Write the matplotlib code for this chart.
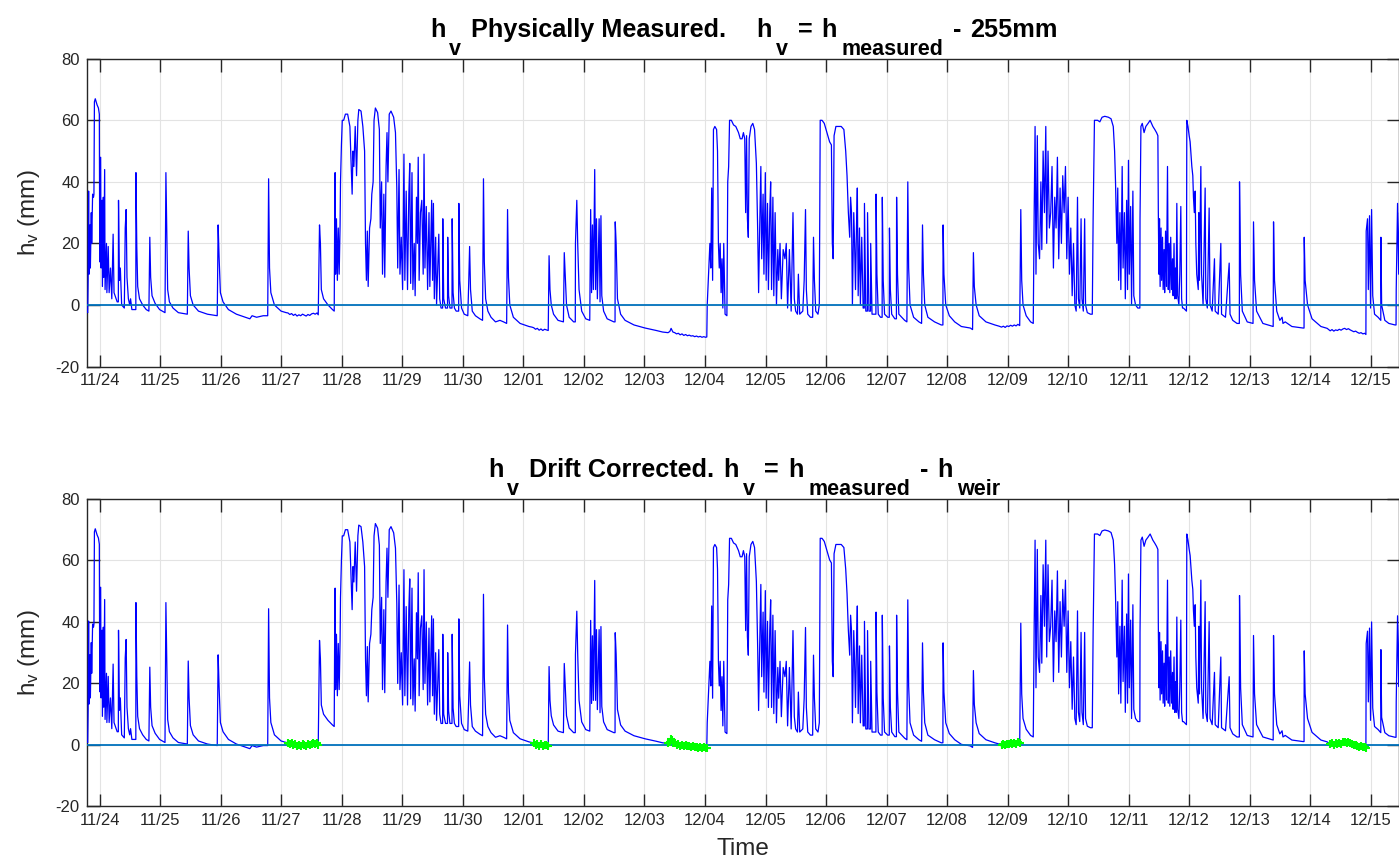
import numpy as np
import matplotlib.pyplot as plt
from matplotlib.transforms import IdentityTransform

plt.rcParams["font.family"] = ["Liberation Sans", "DejaVu Sans"]
plt.rcParams["mathtext.fontset"] = "custom"
plt.rcParams["mathtext.rm"] = "Liberation Sans"
plt.rcParams["mathtext.bf"] = "Liberation Sans:bold"
plt.rcParams["axes.unicode_minus"] = False

# days since 11/24 00:00, h_v measured (mm)
hv_nov23_26 = [
    (-0.214, -2), (-0.199, -2.5), (-0.192, 8), (-0.184, 37), (-0.177, 10), (-0.162, 26),
    (-0.155, 12), (-0.140, 30), (-0.133, 20), (-0.118, 36), (-0.103, 35), (-0.096, 36),
    (-0.088, 66), (-0.074, 67), (-0.044, 65), (-0.022, 64), (-0.007, 62), (0.000, 14),
    (0.015, 48), (0.022, 12), (0.037, 34), (0.044, 6), (0.059, 35), (0.066, 9), (0.081, 44),
    (0.088, 5), (0.111, 20), (0.118, 4), (0.140, 19), (0.155, 4), (0.177, 12), (0.199, 2),
    (0.221, 23), (0.236, 4), (0.288, 1), (0.307, 1), (0.310, 34), (0.325, 8), (0.340, 12),
    (0.362, 0), (0.406, -1), (0.421, 25), (0.436, 31), (0.450, 9), (0.473, 2), (0.495, 0),
    (0.509, 2), (0.531, -1.5), (0.576, -1.5), (0.596, -1.5), (0.598, 43), (0.612, 19),
    (0.627, 6), (0.657, 2), (0.709, 0), (0.768, -1.5), (0.812, -2), (0.827, 22), (0.841, 9),
    (0.864, 3), (0.915, 0.5), (0.989, -1.5), (1.078, -2.5), (1.093, 43), (1.107, 24),
    (1.122, 5), (1.151, 1), (1.210, -1), (1.299, -2.5), (1.447, -3), (1.462, 24), (1.476, 12),
    (1.498, 3), (1.543, 0), (1.631, -2), (1.779, -3), (1.941, -3.5), (1.956, 26), (1.971, 16),
    (1.993, 4), (2.037, 1), (2.126, -1.5), (2.258, -3), (2.406, -4), (2.480, -4.5),
    (2.517, -3.5), (2.591, -4), (2.701, -3.5), (2.775, -3.5), (2.790, 41), (2.805, 12),
    (2.827, 4), (2.886, 0), (2.996, -2), (3.080, -2.5),
    (3.11, -2.6), (3.14, -3.1), (3.17, -2.8), (3.20, -3.4), (3.23, -3.0), (3.26, -3.6),
    (3.29, -3.2), (3.32, -3.5), (3.35, -3.0), (3.38, -3.3), (3.41, -3.6), (3.44, -3.1),
    (3.47, -3.4), (3.50, -2.9), (3.53, -2.7), (3.56, -3.0), (3.59, -2.6), (3.61, -3.2),
]

hv_nov27_dec01 = [
    (3.631, 26), (3.646, 20), (3.661, 5), (3.698, 2), (3.771, 0), (3.845, -1.5), (3.874, -2),
    (3.882, 30), (3.889, 43), (3.897, 10), (3.911, 28), (3.926, 8), (3.941, 25), (3.956, 10),
    (3.971, 26), (3.978, 40), (3.993, 52), (4.007, 60), (4.030, 60), (4.059, 62), (4.096, 62),
    (4.133, 58), (4.162, 40), (4.170, 36), (4.184, 50), (4.199, 45), (4.221, 58), (4.243, 42),
    (4.265, 60), (4.280, 63.5), (4.317, 63), (4.347, 58), (4.376, 50), (4.391, 20), (4.406, 8),
    (4.421, 24), (4.435, 6), (4.458, 25), (4.480, 28), (4.495, 36), (4.517, 40), (4.532, 60),
    (4.554, 64), (4.591, 62.5), (4.620, 57), (4.635, 25), (4.657, 40), (4.672, 10),
    (4.694, 36), (4.709, 9), (4.731, 45), (4.746, 56), (4.761, 40), (4.783, 62), (4.812, 63),
    (4.856, 61), (4.886, 56), (4.908, 38), (4.923, 12), (4.945, 44), (4.960, 10), (4.982, 22),
    (5.004, 5), (5.026, 49), (5.041, 8), (5.063, 37), (5.085, 5), (5.107, 36), (5.122, 46),
    (5.137, 7), (5.159, 43), (5.174, 5), (5.196, 20), (5.211, 3), (5.233, 35), (5.248, 20),
    (5.262, 48), (5.277, 8), (5.299, 30), (5.321, 34), (5.344, 10), (5.358, 49), (5.373, 12),
    (5.395, 32), (5.417, 5), (5.440, 30), (5.454, 6), (5.484, 34), (5.499, 8), (5.513, 33),
    (5.528, 2), (5.550, 22), (5.565, 0), (5.602, 23), (5.617, 2), (5.639, -1), (5.665, -1),
    (5.668, 28), (5.683, 2), (5.713, -1), (5.746, -1), (5.749, 22), (5.764, 3), (5.786, -1),
    (5.820, -1), (5.823, 28), (5.838, 4), (5.860, -1), (5.889, -2), (5.930, -2), (5.933, 33),
    (5.948, 8), (5.978, -1), (6.022, -3), (6.081, -3.5), (6.096, 7), (6.111, 19), (6.126, 5),
    (6.155, -2), (6.207, -3.5), (6.280, -4.5), (6.325, -5), (6.340, 41), (6.354, 14),
    (6.376, 2), (6.413, -2), (6.465, -4), (6.539, -5.5), (6.612, -5), (6.672, -5.5),
    (6.723, -6), (6.738, 31), (6.753, 9), (6.775, 0), (6.834, -4), (6.945, -6), (7.092, -7),
    (7.14, -7.2),
    (7.17, -7.4), (7.20, -7.9), (7.23, -7.6), (7.26, -8.2), (7.29, -7.8), (7.32, -8.3),
    (7.35, -7.9), (7.38, -8.1), (7.41, -8.3),
]

hv_dec01_04 = [
    (7.424, 16), (7.439, 5), (7.460, 0), (7.498, -3), (7.572, -5), (7.661, -5.5), (7.675, 17),
    (7.690, 10), (7.712, 0), (7.756, -4), (7.830, -5.5), (7.857, -5.5), (7.860, 20),
    (7.882, 34), (7.897, 20), (7.919, 5), (7.963, -2), (8.030, -4.5), (8.096, -5), (8.111, 31),
    (8.126, 4), (8.141, 26), (8.156, 5), (8.178, 44), (8.192, 5), (8.207, 28), (8.222, 2),
    (8.251, 28), (8.266, 1), (8.281, 29), (8.295, 3), (8.325, -2), (8.384, -4.5),
    (8.495, -5.5), (8.514, -5.5), (8.517, 27), (8.532, 20), (8.554, 2), (8.606, -3),
    (8.680, -5), (8.827, -6.5), (9.011, -7.5), (9.196, -8.3), (9.30, -8.8),
    (9.39, -9.0), (9.42, -8.6), (9.44, -7.6), (9.45, -8.0), (9.47, -8.8), (9.50, -9.0),
    (9.53, -9.4), (9.56, -9.2), (9.59, -9.7), (9.62, -9.4), (9.65, -9.9), (9.68, -9.6),
    (9.71, -10.0), (9.74, -9.8), (9.77, -10.1), (9.80, -10.0), (9.83, -10.3), (9.86, -10.1),
    (9.89, -10.4), (9.92, -10.2), (9.95, -10.5), (9.98, -10.3), (10.01, -10.5), (10.03, -10.4),
]

hv_dec04_09 = [
    (10.037, 0), (10.059, 10), (10.081, 20), (10.096, 12), (10.111, 38), (10.126, 8),
    (10.140, 57), (10.163, 58), (10.192, 57), (10.207, 50), (10.222, 20), (10.236, 12),
    (10.251, 20), (10.266, 4), (10.281, 15), (10.295, -1), (10.310, 20), (10.332, -3),
    (10.362, -3.5), (10.376, 40), (10.391, 45), (10.406, 60), (10.436, 60), (10.472, 58.5),
    (10.509, 58), (10.554, 56), (10.583, 54), (10.613, 54), (10.635, 56), (10.657, 54),
    (10.672, 30), (10.687, 55), (10.701, 28), (10.716, 22), (10.731, 54), (10.760, 58),
    (10.790, 59), (10.819, 57), (10.849, 46), (10.871, 24), (10.886, 4), (10.901, 22),
    (10.923, 45), (10.937, 15), (10.960, 36), (10.974, 10), (10.997, 43), (11.011, 8),
    (11.033, 33), (11.048, 5), (11.070, 30), (11.085, 40), (11.100, 5), (11.122, 35),
    (11.137, 3), (11.159, 30), (11.181, 0), (11.203, 18), (11.218, 8), (11.240, 20),
    (11.262, 2), (11.292, 18), (11.321, 15), (11.343, 20), (11.365, -1), (11.395, 18),
    (11.424, -2), (11.454, 30), (11.476, 2), (11.498, -2), (11.528, -3), (11.543, 10),
    (11.565, -3), (11.616, -2), (11.639, 8), (11.661, 31), (11.675, 5), (11.698, -3),
    (11.742, -4), (11.779, -4), (11.793, 22), (11.808, 8), (11.830, -2), (11.867, -3),
    (11.889, 0), (11.904, 60), (11.934, 60), (11.971, 59), (12.015, 56), (12.059, 53),
    (12.089, 52), (12.104, 20), (12.118, 15), (12.133, 55), (12.163, 58), (12.200, 58),
    (12.251, 58), (12.295, 57), (12.325, 50), (12.347, 42), (12.369, 30), (12.391, 22),
    (12.406, 35), (12.421, 30), (12.436, 0), (12.458, 30), (12.472, 20), (12.487, 5),
    (12.502, 24), (12.517, 38), (12.531, 3), (12.553, 25), (12.568, 0), (12.590, 22),
    (12.613, -1), (12.632, -1), (12.635, 33), (12.657, -2), (12.683, -2), (12.686, 30),
    (12.709, -2), (12.735, -2), (12.738, 20), (12.760, -3), (12.797, -3), (12.824, -3),
    (12.827, 36), (12.841, 10), (12.863, -3), (12.900, -4), (12.927, -4), (12.930, 35),
    (12.945, 8), (12.967, -3), (13.019, -4), (13.045, -4), (13.048, 25), (13.063, 5),
    (13.085, -3), (13.137, -4.5), (13.163, -4.5), (13.166, 35), (13.181, 10), (13.203, -3),
    (13.299, -5), (13.336, -5.5), (13.351, 40), (13.365, 12), (13.388, 0), (13.447, -4),
    (13.535, -5.5), (13.579, -6), (13.594, 26), (13.609, 10), (13.631, 0), (13.683, -4),
    (13.793, -5.5), (13.904, -6.5), (13.931, -6.5), (13.934, 26), (13.948, 10), (13.978, 0),
    (14.037, -3.5), (14.126, -5.5), (14.236, -7), (14.384, -7.5), (14.421, -8), (14.435, 17),
    (14.450, 6), (14.480, 0), (14.531, -3.5), (14.642, -5.5), (14.790, -6.5), (14.86, -6.9),
    (14.90, -7.2), (14.93, -6.9), (14.96, -7.3), (14.99, -6.8), (15.02, -7.0), (15.05, -6.6),
    (15.08, -6.9), (15.11, -6.5), (15.14, -6.8), (15.17, -6.3), (15.20, -6.7),
]

hv_dec09_12 = [
    (15.218, 31), (15.233, 8), (15.255, 0), (15.307, -3.5), (15.380, -5.5), (15.424, -6),
    (15.439, 30), (15.454, 58), (15.469, 10), (15.491, 55), (15.506, 20), (15.528, 15),
    (15.550, 40), (15.565, 18), (15.587, 50), (15.609, 30), (15.631, 58), (15.646, 20),
    (15.668, 50), (15.690, 25), (15.712, 30), (15.734, 45), (15.757, 12), (15.779, 35),
    (15.801, 25), (15.823, 48), (15.845, 15), (15.867, 38), (15.889, 20), (15.911, 42),
    (15.934, 30), (15.956, 45), (15.978, 15), (16.000, 35), (16.022, 10), (16.044, 25),
    (16.067, 3), (16.089, 20), (16.111, 0), (16.133, -2), (16.155, 35), (16.170, 2),
    (16.192, -1), (16.214, 28), (16.229, 2), (16.251, -2), (16.273, 28), (16.288, 0),
    (16.317, -2.5), (16.369, -3), (16.399, -3), (16.413, 28), (16.435, 60), (16.487, 60),
    (16.524, 59.5), (16.561, 61), (16.606, 61.3), (16.665, 61), (16.709, 60.5), (16.746, 58),
    (16.768, 50), (16.783, 40), (16.805, 20), (16.820, 38), (16.834, 8), (16.856, 30),
    (16.871, 5), (16.893, 45), (16.908, 12), (16.930, 30), (16.945, 2), (16.967, 34),
    (16.982, 5), (16.997, 47), (17.011, 10), (17.033, 32), (17.048, 0), (17.070, 37),
    (17.085, 3), (17.114, 0), (17.151, -1), (17.185, -1), (17.188, 28), (17.203, 58),
    (17.225, 59), (17.255, 56), (17.284, 58), (17.321, 59), (17.355, 60), (17.40, 58),
    (17.432, 57), (17.461, 56), (17.483, 55),
    (17.49, 31), (17.50, 10), (17.51, 28), (17.52, 6), (17.535, 25), (17.545, 8), (17.56, 22),
    (17.57, 5), (17.585, 18), (17.595, 4), (17.61, 24), (17.625, 6), (17.642, 45), (17.655, 5),
    (17.67, 20), (17.68, 4), (17.695, 22), (17.71, 5), (17.725, 15), (17.735, 3), (17.75, 20),
    (17.76, 2), (17.775, 12), (17.785, 2), (17.796, 33), (17.81, 3), (17.83, 0), (17.845, 10),
    (17.862, 32), (17.875, 2), (17.89, -1), (17.906, -1), (17.93, -1.5), (17.955, -2),
]

hv_dec12_15 = [
    (17.961, 60), (17.98, 58), (18.00, 55), (18.016, 53), (18.044, 45), (18.06, 42),
    (18.071, 35), (18.085, 30), (18.099, 37), (18.11, 20), (18.125, 10), (18.15, 5),
    (18.16, 30), (18.17, 8), (18.193, 45), (18.205, 10), (18.23, 0), (18.264, 38), (18.275, 2),
    (18.30, -1), (18.330, 31.5), (18.345, 0), (18.38, -2), (18.418, 15), (18.43, -2),
    (18.48, -3), (18.523, 20), (18.535, -3), (18.60, -4), (18.661, 13.6), (18.675, -3),
    (18.72, -5), (18.79, -6), (18.829, -6), (18.832, 40), (18.85, 10), (18.878, -2),
    (18.959, -5.5), (19.055, -6), (19.063, 27), (19.08, 8), (19.114, -2), (19.218, -6),
    (19.388, -7), (19.394, 27), (19.41, 8), (19.447, -2), (19.498, -5), (19.535, -4),
    (19.550, -6), (19.587, -5.5), (19.697, -7), (19.882, -7.5), (19.898, -7.5), (19.901, 22),
    (19.916, 8), (19.956, 0), (20.030, -4.5), (20.177, -7), (20.28, -7.6),
    (20.33, -8.4), (20.36, -8.0), (20.39, -8.5), (20.42, -8.1), (20.45, -8.3), (20.48, -7.9),
    (20.51, -8.2), (20.54, -7.8), (20.57, -7.6), (20.60, -8.0), (20.63, -7.7), (20.66, -8.1),
    (20.69, -8.4), (20.72, -8.7), (20.75, -8.5), (20.78, -8.9), (20.81, -9.2), (20.84, -9.0),
    (20.87, -9.4), (20.90, -9.2), (20.92, -9.6),
    (20.925, 24), (20.947, 28), (20.96, 5), (20.980, 29), (20.997, -1), (21.014, 31),
    (21.033, 3), (21.063, -3), (21.122, -4), (21.166, -5), (21.168, 22), (21.18, 0),
    (21.233, -5), (21.299, -6), (21.402, -6.5), (21.418, -6.5), (21.421, 5), (21.443, 33),
    (21.462, 10), (21.476, 30), (21.491, 22),
]

# weir level relative to 255 mm, changed after each zero-flow calibration (green)
weir_change_day = [3.62, 7.415, 10.035, 15.21, 20.923]
weir_offset_mm = [3.3, 8.0, 9.5, 7.2, 8.6, 9.0]
calib_start = [3.10, 7.16, 9.38, 14.89, 20.32]
calib_end = [3.615, 7.415, 10.032, 15.205, 20.922]

day_labels = ["11/24", "11/25", "11/26", "11/27", "11/28", "11/29", "11/30", "12/01",
              "12/02", "12/03", "12/04", "12/05", "12/06", "12/07", "12/08", "12/09",
              "12/10", "12/11", "12/12", "12/13", "12/14", "12/15"]

title_top = [("h", False), ("v", True), (" Physically Measured.", False), ("    h", False),
             ("v", True), (" =", False), (" h", False), ("measured", True), (" -", False),
             (" 255mm", False)]
title_bottom = [("h", False), ("v", True), (" Drift Corrected.", False), (" h", False),
                ("v", True), (" =", False), (" h", False), ("measured", True), (" -", False),
                (" h", False), ("weir", True)]

data = np.array(hv_nov23_26 + hv_nov27_dec01 + hv_dec01_04 + hv_dec04_09
                + hv_dec09_12 + hv_dec12_15)
t, hv_meas = data[:, 0], data[:, 1]
hv_corr = hv_meas + np.array(weir_offset_mm)[np.searchsorted(weir_change_day, t, side="right")]

GRAY = "#262626"
fig = plt.figure(figsize=(13.99, 8.64), dpi=100)
ax1 = fig.add_axes([0.0620, 0.5758, 0.9377, 0.3562])
ax2 = fig.add_axes([0.0620, 0.0666, 0.9377, 0.3559])

for ax, y in zip([ax1, ax2], [hv_meas, hv_corr]):
    ax.plot(t, y, color=(0, 0, 1), lw=0.9, zorder=3)
    ax.axhline(0, color="#0072BD", lw=1.3, zorder=4)
    ax.set_xlim(-0.215, 21.46)
    ax.set_ylim(-20, 80)
    ax.set_xticks(range(len(day_labels)))
    ax.set_xticklabels(day_labels)
    ax.set_yticks(range(-20, 81, 20))
    ax.grid(True, color="#e3e3e3", lw=0.8, zorder=0)
    ax.tick_params(direction="in", top=True, right=True, length=9, width=1,
                   color=GRAY, labelcolor=GRAY, labelsize=12, pad=5)
    for s in ax.spines.values():
        s.set_color(GRAY)
        s.set_linewidth(1.0)
    ax.set_ylabel(r"$\mathrm{h_v}$ (mm)", fontsize=17.5, color=GRAY, labelpad=10)

for a, b in zip(calib_start, calib_end):
    m = (t >= a) & (t <= b)
    ax2.plot(t[m], hv_corr[m], color=(0, 1, 0), lw=2, marker="+", ms=6, mew=1.5, zorder=5)

ax2.set_xlabel("Time", fontsize=17.5, color=GRAY, labelpad=7)

# MATLAB-style titles: subscripts sit well below the baseline
renderer = fig.canvas.get_renderer()
MAIN, SUB = 18.2, 15.5
for ax, pieces in [(ax1, title_top), (ax2, title_bottom)]:
    bb = ax.get_window_extent(renderer)
    texts, x = [], 0.0
    for s, sub in pieces:
        size = SUB if sub else MAIN
        lead = len(s) - len(s.lstrip(" "))
        x += lead * 0.278 * MAIN * fig.dpi / 72 + (4.0 if sub else 2.5)
        tx = fig.text(0, 0, s.lstrip(" "), fontsize=size, fontweight="bold",
                      ha="left", va="baseline", color="black", transform=IdentityTransform())
        texts.append((tx, x, sub))
        x += tx.get_window_extent(renderer).width
    x0 = (bb.x0 + bb.x1) / 2 - x / 2
    base = bb.y1 + 22
    for tx, off, sub in texts:
        tx.set_position((x0 + off, base - 18 if sub else base))

fig.savefig("out.png", dpi=100)
